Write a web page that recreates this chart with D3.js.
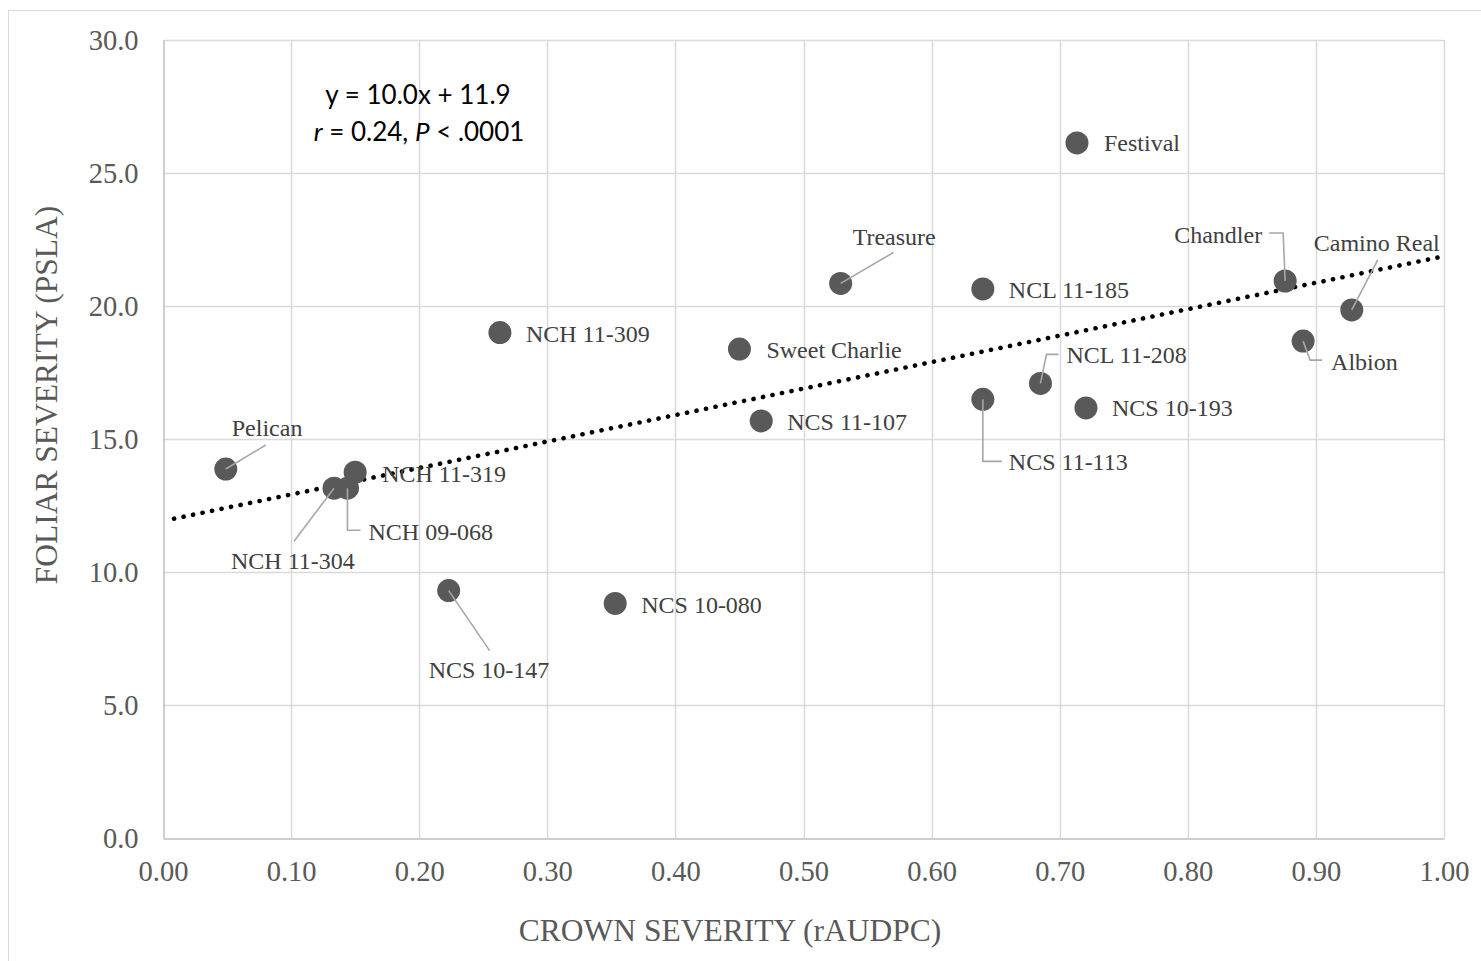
<!DOCTYPE html>
<html>
<head>
<meta charset="utf-8">
<script src="https://cdn.jsdelivr.net/npm/d3@7"></script>
<style>
  html, body { margin: 0; padding: 0; background: #fff; }
  svg { display: block; }
</style>
</head>
<body>
<svg id="chart" width="1481" height="961"></svg>
<script>
// ---- data ----
const cultivars = ["Pelican", "NCH 11-304", "NCH 09-068", "NCH 11-319", "NCS 10-147", "NCH 11-309",
  "NCS 10-080", "Sweet Charlie", "NCS 11-107", "Treasure", "NCL 11-185", "NCS 11-113",
  "NCL 11-208", "Festival", "NCS 10-193", "Chandler", "Albion", "Camino Real"];
const crownSeverity = [0.049, 0.1335, 0.144, 0.150, 0.223, 0.263,
  0.353, 0.450, 0.467, 0.529, 0.640, 0.640,
  0.685, 0.7135, 0.7205, 0.876, 0.890, 0.928];
const foliarSeverity = [13.87, 13.15, 13.15, 13.75, 9.30, 19.0,
  8.82, 18.38, 15.68, 20.85, 20.64, 16.49,
  17.09, 26.13, 16.17, 20.94, 18.68, 19.85];
const xTicks = [0, 0.1, 0.2, 0.3, 0.4, 0.5, 0.6, 0.7, 0.8, 0.9, 1.0];
const yTicks = [0, 5, 10, 15, 20, 25, 30];
const trendSlope = 9.95, trendIntercept = 11.92;
const trendRange = [0.0086, 1.0];
const equationLines = ["y = 10.0x + 11.9", "r = 0.24, P < .0001"];

// ---- label layout (pixel offsets from each dot) ----
const labelLayout = {
  "Pelican":      {dx: 6,   dy: -41, anchor: "start", leader: [[0,0],[40,-24]]},
  "NCH 11-304":   {dx: -103,dy: 72,  anchor: "start", leader: [[0,0],[-40,53]]},
  "NCH 09-068":   {dx: 21,  dy: 43,  anchor: "start", leader: [[0,0],[0,42],[13,42]]},
  "NCH 11-319":   {dx: 27,  dy: 1,   anchor: "start"},
  "NCS 10-147":   {dx: -20, dy: 79,  anchor: "start", leader: [[0,0],[41,60]]},
  "NCH 11-309":   {dx: 26,  dy: 1,   anchor: "start"},
  "NCS 10-080":   {dx: 26,  dy: 1,   anchor: "start"},
  "Sweet Charlie":{dx: 27,  dy: 1,   anchor: "start"},
  "NCS 11-107":   {dx: 26,  dy: 1,   anchor: "start"},
  "Treasure":     {dx: 12,  dy: -47, anchor: "start", leader: [[0,0],[53,-31]]},
  "NCL 11-185":   {dx: 26,  dy: 1,   anchor: "start"},
  "NCS 11-113":   {dx: 26,  dy: 62,  anchor: "start", leader: [[0,0],[0,62],[19,62]]},
  "NCL 11-208":   {dx: 26,  dy: -29, anchor: "start", leader: [[0,0],[6,-29],[18,-29]]},
  "Festival":     {dx: 27,  dy: 0,   anchor: "start"},
  "NCS 10-193":   {dx: 26,  dy: 0,   anchor: "start"},
  "Chandler":     {dx: -23, dy: -46, anchor: "end",   leader: [[0,0],[-2,-48],[-16,-48]]},
  "Albion":       {dx: 28,  dy: 20,  anchor: "start", leader: [[0,0],[7,19],[19,19]]},
  "Camino Real":  {dx: -38, dy: -67, anchor: "start", leader: [[0,0],[26,-50]]}
};

(function draw() {
const svg = d3.select("#chart");
const mLeft = 163, mRight = 1444, mTop = 40, mBottom = 838;
const serif = "'Liberation Serif', 'Times New Roman', serif";

// outer frame
svg.append("rect").attr("x", 8.5).attr("y", 10.5).attr("width", 1500).attr("height", 1000)
  .attr("fill", "#fff").attr("stroke", "#d9d9d9").attr("stroke-width", 1);

const x = d3.scaleLinear().domain([0, 1]).range([mLeft, mRight]);
const y = d3.scaleLinear().domain([0, 30]).range([mBottom, mTop]);

// gridlines
const grid = svg.append("g");
grid.selectAll("line.v").data(xTicks.slice(1)).join("line")
  .attr("x1", d => Math.round(x(d)) + 0.5).attr("x2", d => Math.round(x(d)) + 0.5)
  .attr("y1", mTop).attr("y2", mBottom)
  .attr("stroke", "#d9d9d9").attr("stroke-width", 1.5);
grid.selectAll("line.h").data(yTicks.slice(1)).join("line")
  .attr("y1", d => Math.round(y(d)) + 0.5).attr("y2", d => Math.round(y(d)) + 0.5)
  .attr("x1", mLeft).attr("x2", mRight)
  .attr("stroke", "#d9d9d9").attr("stroke-width", 1.5);

// axes
const xAxis = d3.axisBottom(x).tickValues(xTicks).tickFormat(d3.format(".2f")).tickSize(0).tickPadding(22);
const yAxis = d3.axisLeft(y).tickValues(yTicks).tickFormat(d3.format(".1f")).tickSize(0).tickPadding(25);
const gx = svg.append("g").attr("transform", `translate(0,${mBottom + 0.5})`).call(xAxis);
const gy = svg.append("g").attr("transform", `translate(${mLeft + 0.5},0)`).call(yAxis);
[gx, gy].forEach(g => {
  g.select(".domain").attr("stroke", "#bfbfbf").attr("stroke-width", 1.5);
  g.selectAll("text").attr("font-family", serif)
    .attr("font-size", 28.5).attr("fill", "#595959");
});

// axis titles
svg.append("text").attr("x", 730).attr("y", 941).attr("text-anchor", "middle")
  .attr("font-family", serif).attr("font-size", 31.5)
  .attr("fill", "#595959").text("CROWN SEVERITY (rAUDPC)");
svg.append("text").attr("transform", "translate(57,395) rotate(-90)").attr("text-anchor", "middle")
  .attr("font-family", serif).attr("font-size", 31.5)
  .attr("fill", "#595959").text("FOLIAR SEVERITY (PSLA)");

// trendline
svg.append("line")
  .attr("x1", x(trendRange[0])).attr("y1", y(trendSlope * trendRange[0] + trendIntercept))
  .attr("x2", x(trendRange[1])).attr("y2", y(trendSlope * trendRange[1] + trendIntercept))
  .attr("stroke", "#000").attr("stroke-width", 4.6).attr("stroke-linecap", "round")
  .attr("stroke-dasharray", "0.1 9.6");

// data
const pts = cultivars.map((c, i) => ({name: c, cx: x(crownSeverity[i]), cy: y(foliarSeverity[i])}));

// dots
svg.append("g").selectAll("circle").data(pts).join("circle")
  .attr("cx", p => p.cx).attr("cy", p => p.cy).attr("r", 11.5)
  .attr("fill", "#595959");

// leaders (start at dot centres)
svg.append("g").selectAll("polyline").data(pts.filter(p => labelLayout[p.name].leader)).join("polyline")
  .attr("points", p => labelLayout[p.name].leader.map(([a, b]) => `${p.cx + a},${p.cy + b}`).join(" "))
  .attr("fill", "none").attr("stroke", "#a6a6a6").attr("stroke-width", 1.6);

// labels
svg.append("g").selectAll("text").data(pts).join("text")
  .attr("x", p => p.cx + labelLayout[p.name].dx)
  .attr("y", p => p.cy + labelLayout[p.name].dy)
  .attr("dy", "0.35em")
  .attr("text-anchor", p => labelLayout[p.name].anchor)
  .attr("font-family", serif).attr("font-size", 24)
  .attr("fill", "#404040").text(p => p.name);

// equation
svg.append("text").attr("x", 418).attr("y", 104).attr("text-anchor", "middle")
  .attr("font-family", "Lato, 'Open Sans', sans-serif").attr("font-size", 26).attr("fill", "#000")
  .text(equationLines[0]);
const eq2 = svg.append("text").attr("x", 419).attr("y", 141).attr("text-anchor", "middle")
  .attr("font-family", "Lato, 'Open Sans', sans-serif").attr("font-size", 26).attr("fill", "#000");
equationLines[1].split(/(r|P)/).filter(s => s.length).forEach(s => {
  const t = eq2.append("tspan").text(s);
  if (s === "r" || s === "P") t.attr("font-style", "italic");
});
})();
</script>
</body>
</html>
